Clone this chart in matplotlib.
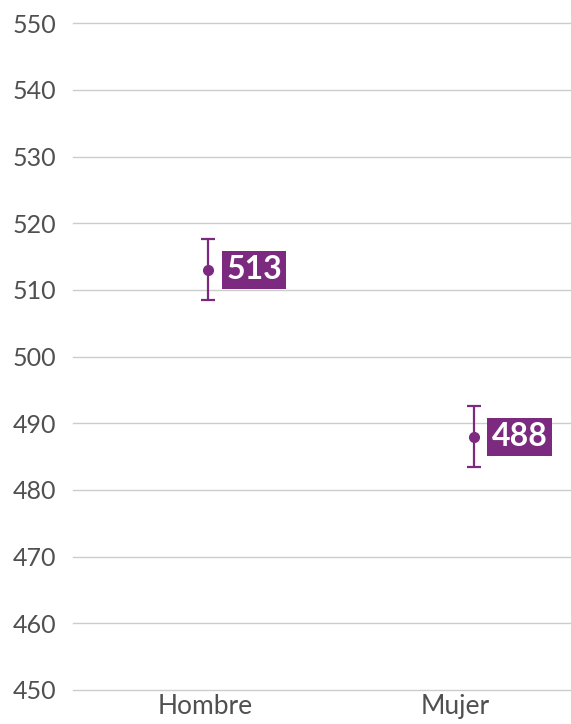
import matplotlib
matplotlib.use("Agg")
import matplotlib.pyplot as plt

categories = ["Hombre", "Mujer"]
values = [513, 488]
err_low = [4.5, 4.6]
err_high = [4.6, 4.6]
yticks = list(range(450, 551, 10))

purple = "#7B2A80"
plt.rcParams['font.family'] = ['Lato', 'DejaVu Sans']

fig = plt.figure(figsize=(5.71, 7.24), dpi=100)
ax = fig.add_axes([0.128, 0.047, 0.872, 0.921])

xs = list(range(len(categories)))
ax.errorbar(xs, values, yerr=[err_low, err_high], fmt='o', color=purple,
            markersize=7, elinewidth=1.6, capsize=5, capthick=1.6, zorder=3)
for x, v in zip(xs, values):
    ax.annotate(f"{v}", (x, v), xytext=(18, 0), textcoords='offset pixels',
                ha='left', va='center', color='white', fontsize=23, fontweight='bold',
                bbox=dict(boxstyle='square,pad=0.14', fc=purple, ec='none'), zorder=4)

ax.set_ylim(450, 550)
ax.set_yticks(yticks)
ax.set_xlim(-0.508, 1.365)
ax.set_xticks([x - 0.01 - 0.06 * x for x in xs])
ax.set_xticklabels(categories)
ax.grid(axis='y', color='#cccccc', linewidth=1)
for gl in ax.get_ygridlines():
    gl.set_clip_on(False)
ax.set_axisbelow(True)
for s in ax.spines.values():
    s.set_visible(False)
ax.tick_params(axis='both', length=0, labelcolor='#505050')
ax.tick_params(axis='y', pad=12, labelsize=18)
ax.tick_params(axis='x', pad=3, labelsize=19)
fig.savefig("out.png", dpi=100)
